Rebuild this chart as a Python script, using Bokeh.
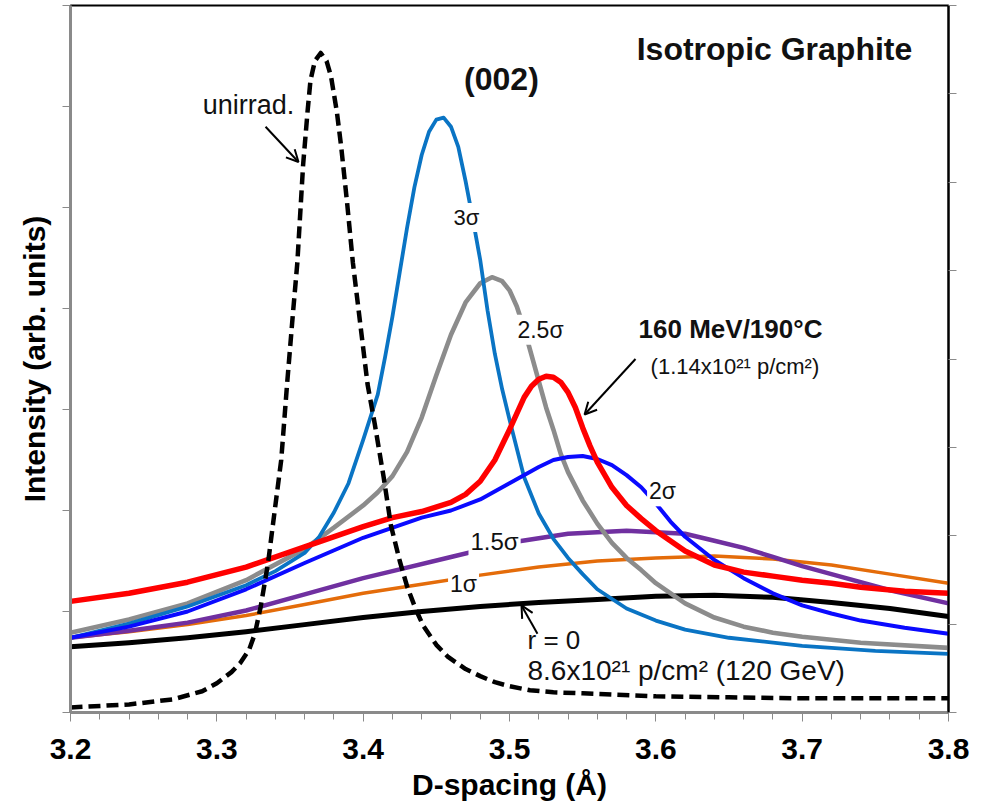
from bokeh.plotting import figure
from bokeh.models import (ColumnDataSource, Range1d, LinearAxis, FixedTicker,
                          Label, Arrow, OpenHead)
from bokeh.embed import file_html
from bokeh.resources import INLINE

# ---- (002) peak profiles: d-spacing (Å) vs intensity (arb. units) ----
d_unirr = [3.20, 3.24, 3.27, 3.29, 3.30, 3.31, 3.316, 3.322, 3.326, 3.330, 3.335,
           3.340, 3.344, 3.348, 3.352, 3.355, 3.359, 3.362, 3.364, 3.367, 3.371,
           3.375, 3.378, 3.382, 3.385, 3.389, 3.393, 3.398, 3.403, 3.408, 3.414,
           3.419, 3.425, 3.430, 3.436, 3.441, 3.45, 3.458, 3.47, 3.48, 3.49, 3.50,
           3.514, 3.53, 3.55, 3.60, 3.65, 3.70, 3.80]
i_unirr = [0.05, 0.08, 0.13, 0.21, 0.29, 0.40, 0.49, 0.62, 0.78, 1.05, 1.48,
           2.05, 2.50, 3.25, 3.95, 4.45, 5.43, 5.95, 6.26, 6.45, 6.53,
           6.45, 6.30, 5.95, 5.60, 5.05, 4.45, 3.85, 3.25, 2.85, 2.33,
           1.85, 1.50, 1.25, 1.02, 0.86, 0.67, 0.55, 0.43, 0.36, 0.30, 0.26,
           0.22, 0.20, 0.19, 0.16, 0.15, 0.14, 0.14]

d_3s = [3.20, 3.24, 3.28, 3.32, 3.34, 3.36, 3.37, 3.38, 3.39, 3.40, 3.41,
        3.415, 3.42, 3.425, 3.43, 3.435, 3.44, 3.445, 3.45, 3.455, 3.46,
        3.465, 3.47, 3.475, 3.48, 3.485, 3.49, 3.495, 3.50, 3.51, 3.52,
        3.53, 3.54, 3.55, 3.56, 3.58, 3.60, 3.62, 3.65, 3.70, 3.75, 3.80]
i_3s = [0.74, 0.88, 1.05, 1.26, 1.40, 1.58, 1.74, 1.98, 2.27, 2.70, 3.15,
        3.52, 3.92, 4.36, 4.80, 5.20, 5.52, 5.75, 5.87, 5.89, 5.80,
        5.60, 5.26, 4.88, 4.48, 3.98, 3.55, 3.20, 2.90, 2.33, 1.97,
        1.72, 1.53, 1.37, 1.22, 1.03, 0.91, 0.82, 0.74, 0.66, 0.61, 0.58]

d_25s = [3.20, 3.24, 3.28, 3.32, 3.36, 3.38, 3.40, 3.41, 3.42, 3.43, 3.44,
         3.45, 3.46, 3.47, 3.48, 3.488, 3.495, 3.50, 3.505, 3.51, 3.515,
         3.52, 3.525, 3.53, 3.535, 3.54, 3.55, 3.56, 3.57, 3.58, 3.59,
         3.60, 3.62, 3.64, 3.66, 3.68, 3.70, 3.74, 3.80]
i_25s = [0.79, 0.92, 1.08, 1.31, 1.62, 1.83, 2.05, 2.18, 2.34, 2.58, 2.92,
         3.34, 3.74, 4.06, 4.25, 4.31, 4.27, 4.18, 4.02, 3.80, 3.54,
         3.28, 3.02, 2.80, 2.56, 2.38, 2.10, 1.87, 1.68, 1.53, 1.41,
         1.28, 1.08, 0.94, 0.85, 0.79, 0.75, 0.69, 0.64]

d_2s = [3.20, 3.24, 3.28, 3.32, 3.36, 3.40, 3.44, 3.46, 3.48, 3.50, 3.52,
        3.53, 3.54, 3.55, 3.56, 3.57, 3.58, 3.59, 3.60, 3.61, 3.62,
        3.64, 3.66, 3.68, 3.70, 3.72, 3.74, 3.77, 3.80]
i_2s = [0.74, 0.85, 1.00, 1.22, 1.48, 1.73, 1.93, 2.00, 2.11, 2.27, 2.43,
        2.50, 2.53, 2.54, 2.51, 2.45, 2.35, 2.23, 2.07, 1.89, 1.74,
        1.51, 1.33, 1.18, 1.06, 0.98, 0.91, 0.84, 0.78]

d_15s = [3.20, 3.24, 3.28, 3.32, 3.36, 3.40, 3.42, 3.46, 3.50, 3.54, 3.58,
         3.62, 3.64, 3.66, 3.68, 3.70, 3.72, 3.76, 3.80]
i_15s = [0.74, 0.81, 0.89, 1.01, 1.17, 1.33, 1.40, 1.54, 1.68, 1.77, 1.80,
         1.77, 1.70, 1.63, 1.54, 1.45, 1.37, 1.21, 1.08]

d_1s = [3.20, 3.24, 3.28, 3.32, 3.36, 3.40, 3.44, 3.48, 3.52, 3.56, 3.60,
        3.64, 3.68, 3.72, 3.76, 3.80]
i_1s = [0.74, 0.80, 0.87, 0.96, 1.07, 1.18, 1.27, 1.36, 1.44, 1.50, 1.53,
        1.55, 1.52, 1.46, 1.37, 1.28]

d_r0 = [3.20, 3.24, 3.28, 3.32, 3.36, 3.40, 3.44, 3.48, 3.52, 3.56, 3.60,
        3.64, 3.68, 3.72, 3.76, 3.80]
i_r0 = [0.65, 0.69, 0.74, 0.80, 0.87, 0.94, 1.00, 1.05, 1.09, 1.12, 1.15,
        1.16, 1.14, 1.09, 1.03, 0.95]

d_160 = [3.20, 3.24, 3.28, 3.32, 3.36, 3.40, 3.42, 3.44, 3.46, 3.47, 3.48,
         3.49, 3.50, 3.51, 3.515, 3.52, 3.525, 3.53, 3.535, 3.54, 3.545,
         3.55, 3.555, 3.56, 3.57, 3.58, 3.59, 3.60, 3.62, 3.64, 3.66,
         3.68, 3.70, 3.72, 3.74, 3.77, 3.80]
i_160 = [1.10, 1.18, 1.29, 1.44, 1.64, 1.84, 1.93, 1.99, 2.08, 2.16, 2.29,
         2.50, 2.80, 3.12, 3.23, 3.30, 3.33, 3.32, 3.27, 3.17, 3.02,
         2.82, 2.64, 2.48, 2.23, 2.05, 1.92, 1.80, 1.60, 1.46, 1.39,
         1.35, 1.31, 1.28, 1.24, 1.20, 1.18]

x_ticks = [3.2, 3.3, 3.4, 3.5, 3.6, 3.7, 3.8]
x_tick_labels = ["3.2", "3.3", "3.4", "3.5", "3.6", "3.7", "3.8"]
x_minor = [round(3.2 + 0.02 * k, 2) for k in range(31)]
y_ticks = [0, 1, 2, 3, 4, 5, 6, 7]
y2_ticks = [0, 1, 2, 3, 4, 5, 6, 7, 8]

FONT = "Liberation Sans"
AXIS_GREY = "#8a8a8a"

p = figure(width=987, height=811, x_range=Range1d(3.2, 3.8), y_range=Range1d(0, 7),
           output_backend="svg", toolbar_location=None,
           min_border_left=70, min_border_right=39, min_border_top=5,
           min_border_bottom=99)
p.xgrid.visible = False
p.ygrid.visible = False
p.outline_line_color = "black"
p.outline_line_width = 2
p.background_fill_color = "white"
p.border_fill_color = "white"

# bottom axis
xa = p.xaxis[0]
xa.ticker = FixedTicker(ticks=x_ticks, minor_ticks=x_minor)
xa.major_label_overrides = {t: s for t, s in zip(x_ticks, x_tick_labels)}
xa.axis_label = "D-spacing (Å)"
xa.axis_line_color = AXIS_GREY
xa.axis_line_width = 3
xa.major_tick_line_color = AXIS_GREY
xa.minor_tick_line_color = AXIS_GREY
xa.major_tick_in = 0
xa.major_tick_out = 9
xa.minor_tick_in = 0
xa.minor_tick_out = 7
xa.major_label_text_font = FONT
xa.major_label_text_font_style = "bold"
xa.major_label_text_font_size = "30px"
xa.major_label_text_color = "black"
xa.major_label_standoff = 17
xa.axis_label_text_font = FONT
xa.axis_label_text_font_style = "bold"
xa.axis_label_text_font_size = "30px"
xa.axis_label_text_color = "black"
xa.axis_label_standoff = 6

# left axis: ticks only, no numbers
ya = p.yaxis[0]
ya.ticker = FixedTicker(ticks=y_ticks, minor_ticks=[])
ya.major_label_overrides = {t: "" for t in y_ticks}
ya.axis_label = "Intensity (arb. units)"
ya.axis_line_color = AXIS_GREY
ya.axis_line_width = 3
ya.major_tick_line_color = AXIS_GREY
ya.major_tick_in = 0
ya.major_tick_out = 8
ya.minor_tick_out = 0
ya.axis_label_text_font = FONT
ya.axis_label_text_font_style = "bold"
ya.axis_label_text_font_size = "30px"
ya.axis_label_text_color = "black"
ya.axis_label_standoff = 12

# right axis: ticks only
p.extra_y_ranges = {"r": Range1d(0, 8)}
ra = LinearAxis(y_range_name="r", ticker=FixedTicker(ticks=y2_ticks, minor_ticks=[]))
ra.major_label_overrides = {t: "" for t in y2_ticks}
ra.axis_line_color = "black"
ra.axis_line_width = 2
ra.major_tick_line_color = AXIS_GREY
ra.major_tick_in = 0
ra.major_tick_out = 8
ra.minor_tick_out = 0
p.add_layout(ra, "right")

# curves
series = [
    (d_1s, i_1s, "#E46C0A", 3.5, "solid"),
    (d_15s, i_15s, "#7030A0", 4.5, "solid"),
    (d_r0, i_r0, "black", 5, "solid"),
    (d_25s, i_25s, "#8C8C8C", 4.6, "solid"),
    (d_3s, i_3s, "#0A74C4", 3.8, "solid"),
    (d_2s, i_2s, "#0A0AFF", 4, "solid"),
    (d_160, i_160, "#FF0000", 5.5, "solid"),
    (d_unirr, i_unirr, "black", 4.5, "12 6"),
]
for d, i, col, lw, dash in series:
    src = ColumnDataSource(dict(d=d, i=i))
    p.line("d", "i", source=src, line_color=col, line_width=lw, line_dash=dash,
           line_join="round", line_cap="butt")


def label(x, y, text, size, style="normal", align="center", bg=None):
    lab = Label(x=x, y=y, text=text, text_font=FONT, text_font_size=size,
                text_font_style=style, text_align=align, text_baseline="middle",
                text_color="#111111")
    if bg:
        lab.background_fill_color = bg
        lab.padding = 2
    p.add_layout(lab)


label(3.6811, 6.574, "Isotropic Graphite", "32px", "bold")
label(3.4945, 6.277, "(002)", "32px", "bold")
label(3.3216, 6.01, "unirrad.", "27px")
label(3.4706, 4.90, "3σ", "22px", bg="white")
label(3.5212, 3.79, "2.5σ", "23px", bg="white")
label(3.6046, 2.19, "2σ", "23px", bg="white")
label(3.4898, 1.69, "1.5σ", "24px", bg="white")
label(3.4686, 1.27, "1σ", "23px", bg="white")
label(3.5123, 0.713, "r = 0", "26px", align="left")
label(3.5123, 0.416, "8.6x10²¹ p/cm² (120 GeV)", "28px", align="left")
label(3.5882, 3.80, "160 MeV/190°C", "26px", "bold", align="left")
label(3.5964, 3.426, "(1.14x10²¹ p/cm²)", "22px", align="left")

# pointer arrows
for xs, ys, xe, ye in [(3.3333, 5.80, 3.3558, 5.45),
                       (3.5861, 3.50, 3.5513, 2.95),
                       (3.5191, 0.78, 3.5082, 1.06)]:
    p.add_layout(Arrow(end=OpenHead(size=12, line_width=2, line_color="black"),
                       x_start=xs, y_start=ys, x_end=xe, y_end=ye,
                       line_width=2, line_color="black"))

open("out.html", "w").write(file_html(p, INLINE))
